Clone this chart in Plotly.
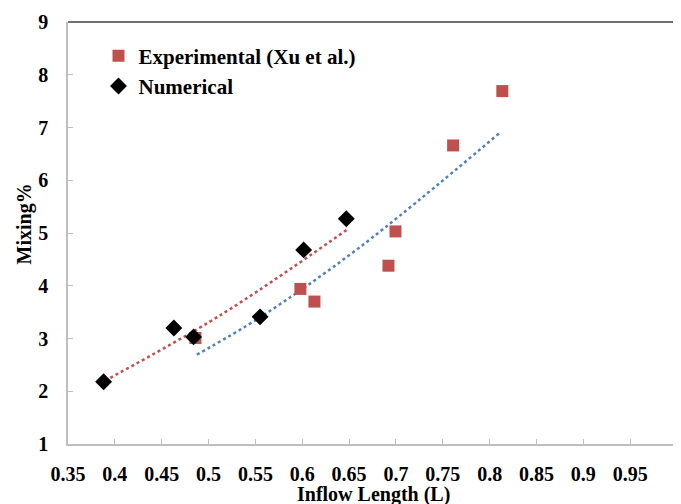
import plotly.graph_objects as go

# Experimental (Xu et al.)
exp_x = [0.486, 0.598, 0.613, 0.692, 0.6995, 0.761, 0.8135]
exp_y = [3.01, 3.94, 3.70, 4.38, 5.03, 6.66, 7.69]

# Numerical
num_x = [0.388, 0.463, 0.484, 0.555, 0.6015, 0.647]
num_y = [2.18, 3.20, 3.03, 3.41, 4.68, 5.27]

# Trendlines
num_trend_x = [0.3894, 0.512, 0.6484]
num_trend_y = [2.20, 3.435, 5.07]
exp_trend_x = [0.4875, 0.5546, 0.6611, 0.8103]
exp_trend_y = [2.694, 3.397, 4.726, 6.892]

x_ticks = [0.35, 0.4, 0.45, 0.5, 0.55, 0.6, 0.65, 0.7, 0.75, 0.8, 0.85, 0.9, 0.95, 1.0]
x_tick_labels = ["0.35", "0.4", "0.45", "0.5", "0.55", "0.6", "0.65", "0.7", "0.75", "0.8", "0.85", "0.9", "0.95", "1"]
y_ticks = [1, 2, 3, 4, 5, 6, 7, 8, 9]

RED = "#c0504d"
BLUE = "#4f81bd"
FONT = "Liberation Serif"

fig = go.Figure()
fig.add_trace(go.Scatter(x=num_trend_x, y=num_trend_y, mode="lines",
                         line=dict(color=RED, width=2.5, dash="dot", shape="spline", smoothing=1.0),
                         showlegend=False, hoverinfo="skip"))
fig.add_trace(go.Scatter(x=exp_trend_x, y=exp_trend_y, mode="lines",
                         line=dict(color=BLUE, width=2.5, dash="dot", shape="spline", smoothing=1.0),
                         showlegend=False, hoverinfo="skip"))
fig.add_trace(go.Scatter(x=exp_x, y=exp_y, mode="markers", name="Experimental (Xu et al.)",
                         legendgroup="a",
                         marker=dict(symbol="square", size=12, color=RED)))
fig.add_trace(go.Scatter(x=num_x, y=num_y, mode="markers", name="Numerical",
                         legendgroup="b",
                         marker=dict(symbol="diamond", size=13, color="black")))

tick_font = dict(family=FONT, size=20, color="black", weight="bold")
axis_common = dict(showgrid=False, zeroline=False, showline=True, linecolor="#bfbfbf", linewidth=1.5,
                   ticks="inside", ticklen=5, tickcolor="#bfbfbf", tickwidth=1, automargin=False,
                   ticklabeloverflow="allow", tickfont=tick_font)

fig.update_xaxes(range=[0.35, 1.001], tickvals=x_ticks, ticktext=x_tick_labels,
                 ticklabelstandoff=11, **axis_common)
fig.update_yaxes(range=[1, 9], tickvals=y_ticks,
                 ticklabelstandoff=14, **axis_common)

fig.add_shape(type="line", xref="paper", yref="paper", x0=0, x1=1, y0=1, y1=1,
              line=dict(color="#404040", width=1.5))
fig.add_shape(type="line", xref="paper", yref="paper", x0=1, x1=1, y0=0, y1=1,
              line=dict(color="#404040", width=1.5))

# last x tick label sits at the very edge of the page; draw it explicitly so it is not hidden
fig.add_annotation(text=x_tick_labels[-1], x=x_ticks[-1], xref="x", yref="paper", y=-0.0545,
                   xanchor="center", yanchor="middle", showarrow=False, font=tick_font)

title_font = dict(family=FONT, size=20, color="black", weight="bold")
fig.add_annotation(text="Inflow Length (L)", xref="paper", yref="paper", x=0.5, y=-0.12,
                   xanchor="center", yanchor="middle", showarrow=False, font=title_font)
fig.add_annotation(text="Mixing%", xref="paper", yref="paper", x=-0.071, y=0.522,
                   xanchor="center", yanchor="middle", showarrow=False, textangle=-90, font=title_font)

# page body has an 8px margin, so the figure is sized to fit inside the window
fig.update_layout(
    width=673, height=496,
    margin=dict(l=60, r=3, t=14, b=60),
    paper_bgcolor="white", plot_bgcolor="white",
    legend=dict(x=0.05, y=0.968, xanchor="left", yanchor="top",
                font=dict(family=FONT, size=21, color="black", weight="bold"),
                bgcolor="rgba(0,0,0,0)", tracegroupgap=0, traceorder="grouped"),
)

fig.write_html(
    "out.html",
    post_script="document.querySelectorAll('svg.main-svg').forEach(function(s){s.style.overflow='visible';});",
)
